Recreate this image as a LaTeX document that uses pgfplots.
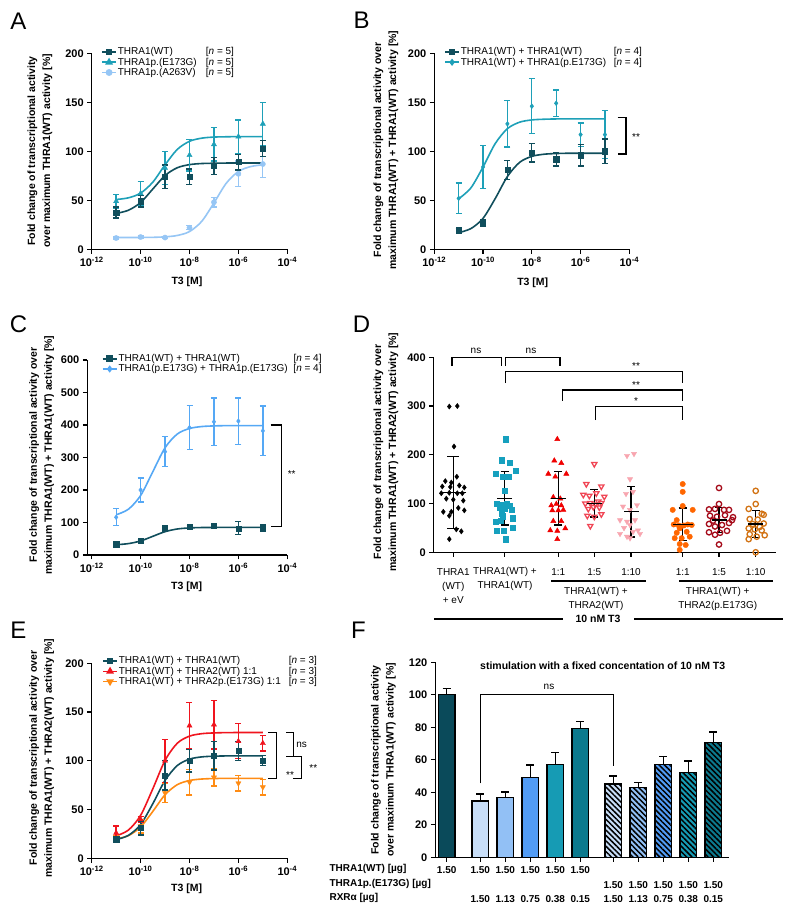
\documentclass[border=0pt]{standalone}
\usepackage{fontspec}
\setmainfont{Liberation Sans}
\usepackage{pgfplots}
\pgfplotsset{compat=1.18}
\usetikzlibrary{patterns.meta}
\pgfkeys{/pgf/number format/assume math mode=true}

\definecolor{wt}{RGB}{16,78,92}
\definecolor{mutA}{RGB}{30,160,184}
\definecolor{avA}{RGB}{150,198,245}
\definecolor{mutC}{RGB}{85,168,245}
\definecolor{redE}{RGB}{240,20,30}
\definecolor{orE}{RGB}{255,140,20}
\definecolor{dteal}{RGB}{22,160,190}
\definecolor{dred}{RGB}{240,0,0}
\definecolor{dred2}{RGB}{240,70,85}
\definecolor{dpink}{RGB}{248,165,175}
\definecolor{dor}{RGB}{255,102,0}
\definecolor{ddark}{RGB}{165,10,25}
\definecolor{dbrown}{RGB}{210,115,20}
\definecolor{fa}{RGB}{10,74,90}
\definecolor{fb}{RGB}{200,222,248}
\definecolor{fc}{RGB}{146,192,245}
\definecolor{fd}{RGB}{82,156,245}
\definecolor{fe}{RGB}{22,155,180}
\definecolor{ff}{RGB}{12,122,142}

\newcommand\labf{\bfseries\fontsize{10.5}{15}\selectfont}
\newcommand\tkf{\bfseries\fontsize{11}{13}\selectfont}
\newcommand\lgf{\fontsize{10}{12}\selectfont}
\newcommand\ylab[3]{\node[rotate=90,align=center,font=\labf] at (#1pt,#2pt) {#3};}

\pgfplotsset{
  gpaxis/.style={scale only axis, anchor=south west, clip=false,
    axis x line*=bottom, axis y line*=left,
    axis line style={-, line width=1.4pt},
    tick style={black, line width=1.3pt},
    tick align=outside, major tick length=4.5pt,
    tick label style={font=\tkf},
    legend style={draw=none, fill=none, font=\lgf, anchor=north west,
      row sep=-0.5pt, inner sep=0pt, nodes={inner sep=1pt}},
    legend cell align=left},
  fitcurve/.style={smooth, line width=1.6pt, no markers, forget plot},
  meanpts/.style={only marks, forget plot,
    error bars/y dir=both, error bars/y explicit,
    error bars/error bar style={line width=1.3pt},
    error bars/error mark options={rotate=90, mark size=3pt, line width=1.3pt}},
  fbarstyle/.style={ybar, bar width=16.7, bar shift=0pt, draw=black, line width=1.2pt,
    error bars/y dir=plus, error bars/y explicit,
    error bars/error bar style={black, line width=1.3pt},
    error bars/error mark options={black, rotate=90, mark size=4pt, line width=1.3pt}},
  hatchbar/.style={postaction={pattern={Lines[angle=-45,distance=3.8pt,line width=1.5pt]}, pattern color=black}},
  legend image code/.code={\draw[mark repeat=2,mark phase=2,#1]
      plot coordinates {(0pt,0pt) (7pt,0pt) (14pt,0pt)};},
}

\begin{document}
\begin{tikzpicture}
\fill[white] (0pt,0pt) rectangle (792pt,912pt);

% panel letters
\foreach \lt/\px/\py in {A/18.5/890.5, B/361.5/891.5, C/18.5/588, D/361.5/588, E/18.5/281.5, F/358.5/282}
  \node[font=\fontsize{24}{24}\selectfont] at (\px pt,\py pt) {\lt};

% ---------- A ----------
\begin{axis}[gpaxis, xmode=log, xmin=1e-12, xmax=1e-4, xminorticks=false,
  xtick={1e-12,1e-10,1e-8,1e-6,1e-4},
  xticklabels={10\textsuperscript{-12},10\textsuperscript{-10},10\textsuperscript{-8},10\textsuperscript{-6},10\textsuperscript{-4}},
  at={(91.7pt,662.7pt)}, width=195.6pt, height=196pt,
  ymin=0, ymax=200, ytick={0,50,100,150,200},
  legend style={at={(axis description cs:0.048,1.035)}}]
\addlegendimage{wt, line width=1.6pt, mark=square*, mark size=2.6pt}
\addlegendentry{\makebox[88pt][l]{THRA1(WT)}[\textit{n} = 5]}
\addlegendimage{mutA, line width=1.6pt, mark=triangle*, mark size=3pt}
\addlegendentry{\makebox[88pt][l]{THRA1p.(E173G)}[\textit{n} = 5]}
\addlegendimage{avA, line width=1.6pt, mark=*, mark size=2.6pt}
\addlegendentry{\makebox[88pt][l]{THRA1p.(A263V)}[\textit{n} = 5]}
\addplot[fitcurve, avA] coordinates {(1e-11,12)(3.162e-11,12)(1e-10,12.1)(3.162e-10,12.2)(1e-9,12.7)(3.162e-9,14.1)(1e-8,18.1)(3.162e-8,28.5)(1e-7,47.3)(3.162e-7,67.3)(1e-6,79.4)(3.162e-6,84.4)(1e-5,86.2)};
\addplot[fitcurve, mutA] coordinates {(1e-11,50.8)(3.162e-11,52.5)(1e-10,57.3)(3.162e-10,68.5)(1e-9,86.2)(3.162e-9,101.9)(1e-8,110.2)(3.162e-8,113.4)(1e-7,114.5)(3.162e-7,114.8)(1e-6,115)(3.162e-6,115)(1e-5,115)};
\addplot[fitcurve, wt] coordinates {(1e-11,36.6)(3.162e-11,39.8)(1e-10,47.7)(3.162e-10,61.5)(1e-9,75.3)(3.162e-9,83.2)(1e-8,86.4)(3.162e-8,87.5)(1e-7,87.8)(3.162e-7,88)(1e-6,88)(3.162e-6,88)(1e-5,88)};
\addplot[meanpts, avA, mark=*, mark size=2.6pt] coordinates {(1e-11,11.5)+-(0,1)(1e-10,12.5)+-(0,1)(1e-9,12)+-(0,1)(1e-8,22)+-(0,2)(1e-7,48)+-(0,5)(1e-6,77)+-(0,13)(1e-5,87)+-(0,14)};
\addplot[meanpts, mutA, mark=triangle*, mark size=3pt] coordinates {(1e-11,49)+-(0,7)(1e-10,57)+-(0,12)(1e-9,83)+-(0,17)(1e-8,96)+-(0,16)(1e-7,107)+-(0,17)(1e-6,115)+-(0,17)(1e-5,128)+-(0,22)};
\addplot[meanpts, wt, mark=square*, mark size=2.6pt] coordinates {(1e-11,37.5)+-(0,5.5)(1e-10,49)+-(0,6)(1e-9,74)+-(0,12)(1e-8,74)+-(0,8)(1e-7,85)+-(0,9)(1e-6,89)+-(0,8)(1e-5,103)+-(0,8)};
\end{axis}
\ylab{40}{761}{Fold change of transcriptional activity\\over maximum THRA1(WT) activity [\%]}
\node[font=\labf] at (187pt,630pt) {T3 [M]};

% ---------- B ----------
\begin{axis}[gpaxis, xmode=log, xmin=1e-12, xmax=1e-4, xminorticks=false,
  xtick={1e-12,1e-10,1e-8,1e-6,1e-4},
  xticklabels={10\textsuperscript{-12},10\textsuperscript{-10},10\textsuperscript{-8},10\textsuperscript{-6},10\textsuperscript{-4}},
  at={(434.3pt,662.7pt)}, width=195pt, height=196pt,
  ymin=0, ymax=200, ytick={0,50,100,150,200},
  legend style={at={(axis description cs:0.05,1.035)}}]
\addlegendimage{wt, line width=1.6pt, mark=square*, mark size=2.6pt}
\addlegendentry{\makebox[153pt][l]{THRA1(WT) + THRA1(WT)}[\textit{n} = 4]}
\addlegendimage{mutA, line width=1.6pt, mark=diamond*, mark size=2.4pt}
\addlegendentry{\makebox[153pt][l]{THRA1(WT) + THRA1(p.E173G)}[\textit{n} = 4]}
\addplot[fitcurve, mutA] coordinates {(1e-11,51.5)(3.162e-11,62.6)(1e-10,84)(3.162e-10,107.9)(1e-9,123.1)(3.162e-9,129.7)(1e-8,132)(3.162e-8,132.7)(1e-7,133)(3.162e-7,133)(1e-6,133)(3.162e-6,133)(1e-5,133)};
\addplot[fitcurve, wt] coordinates {(1e-11,17)(3.162e-11,21.1)(1e-10,31.6)(3.162e-10,51.8)(1e-9,74.3)(3.162e-9,88.7)(1e-8,94.8)(3.162e-8,97)(1e-7,97.7)(3.162e-7,98)(1e-6,98)(3.162e-6,98)(1e-5,98)};
\addplot[meanpts, mutA, mark=diamond*, mark size=2.4pt] coordinates {(1e-11,52)+-(0,15.5)(1e-10,84)+-(0,22)(1e-9,128)+-(0,23.5)(1e-8,146)+-(0,28)(1e-7,149)+-(0,13.5)(1e-6,117)+-(0,12)(1e-5,117)+-(0,24.5)};
\addplot[meanpts, wt, mark=square*, mark size=2.6pt] coordinates {(1e-11,19.5)+-(0,1.5)(1e-10,27)+-(0,3.5)(1e-9,81)+-(0,9.5)(1e-8,98.5)+-(0,9.5)(1e-7,92)+-(0,7)(1e-6,96)+-(0,11)(1e-5,100)+-(0,12.5)};
\end{axis}
\ylab{386}{762}{Fold change of transcriptional activity over\\maximum THRA1(WT) + THRA1(WT) activity [\%]}
\node[font=\labf] at (532.7pt,629.3pt) {T3 [M]};
\draw[line width=1.3pt] (617.7pt,794.3pt) -- (626pt,794.3pt) -- (626pt,758pt) -- (617.7pt,758pt);
\node[font=\lgf] at (636pt,775pt) {**};

% ---------- C ----------
\begin{axis}[gpaxis, xmode=log, xmin=6.6e-13, xmax=1e-4, xminorticks=false,
  xtick={1e-12,1e-10,1e-8,1e-6,1e-4},
  xticklabels={10\textsuperscript{-12},10\textsuperscript{-10},10\textsuperscript{-8},10\textsuperscript{-6},10\textsuperscript{-4}},
  at={(87.3pt,357pt)}, width=200pt, height=195pt,
  ymin=0, ymax=600, ytick={0,100,...,600},
  legend style={at={(axis description cs:0.072,1.035)}}]
\addlegendimage{wt, line width=1.6pt, mark=square*, mark size=2.6pt}
\addlegendentry{\makebox[175pt][l]{THRA1(WT) + THRA1(WT)}[\textit{n} = 4]}
\addlegendimage{mutC, line width=1.6pt, mark=diamond*, mark size=2.4pt}
\addlegendentry{\makebox[175pt][l]{THRA1(p.E173G) + THRA1p.(E173G)}[\textit{n} = 4]}
\addplot[fitcurve, mutC] coordinates {(1e-11,123.8)(3.162e-11,140.8)(1e-10,182.9)(3.162e-10,256.5)(1e-9,330)(3.162e-9,372.2)(1e-8,389.2)(3.162e-8,395.2)(1e-7,397.2)(3.162e-7,398)(1e-6,398)(3.162e-6,398)(1e-5,398)};
\addplot[fitcurve, wt] coordinates {(1e-11,31.7)(3.162e-11,35)(1e-10,43.2)(3.162e-10,57.5)(1e-9,71.8)(3.162e-9,80)(1e-8,83.3)(3.162e-8,84.5)(1e-7,84.8)(3.162e-7,85)(1e-6,85)(3.162e-6,85)(1e-5,85)};
\addplot[meanpts, mutC, mark=diamond*, mark size=2.4pt] coordinates {(1e-11,116)+-(0,26)(1e-10,200)+-(0,37)(1e-9,318)+-(0,46)(1e-8,392)+-(0,67)(1e-7,410)+-(0,73)(1e-6,412)+-(0,71)(1e-5,382)+-(0,76)};
\addplot[meanpts, wt, mark=square*, mark size=2.6pt] coordinates {(1e-11,33)+-(0,3)(1e-10,44)+-(0,3)(1e-9,81)+-(0,9.5)(1e-8,87)+-(0,3)(1e-7,89)+-(0,3)(1e-6,82)+-(0,20)(1e-5,84)+-(0,10)};
\end{axis}
\ylab{41.7}{457}{Fold change of transcriptional activity over\\maximum THRA1(WT) + THRA1(WT) activity [\%]}
\node[font=\labf] at (186.7pt,325.3pt) {T3 [M]};
\draw[line width=1.3pt] (270.7pt,487pt) -- (281.7pt,487pt) -- (281.7pt,385.3pt) -- (270.7pt,385.3pt);
\node[font=\lgf] at (291.7pt,438pt) {**};

% ---------- D ----------
\begin{axis}[gpaxis, at={(433.7pt,359.7pt)}, width=342.3pt, height=195pt,
  xmin=433.7, xmax=776, ymin=0, ymax=400, ytick={0,100,...,400},
  xtick={453.3,504.7,558.3,594.3,631,682.7,719,755.7}, xticklabels={}]
\addplot[only marks, black, mark=diamond*, mark size=2.6pt] coordinates {(449.3,299)(457.3,300)(454,217)(456.8,155)(445.3,146)(451.3,143)(442.3,135)(450.3,134)(459.3,137)(464.3,133)(441.3,121)(449.3,122)(457.3,121)(462.3,121)(446.3,110)(453.3,108)(463.3,106)(443.3,83)(451.3,83)(458.3,91)(464.3,86)(449.3,75)(456.3,47)(461.3,43)(449.3,27)};
\addplot[only marks, dteal, mark=square*, mark size=2.6pt] coordinates {(505.7,232)(501.7,189)(509.7,184)(495.7,161)(515.7,167)(502.7,155)(508.7,155)(504.7,127)(496.7,99)(501.7,97)(506.7,100)(509.7,96)(499.7,92)(504.7,89)(511.7,87)(501.7,80)(502.7,74)(512.7,70)(500.7,64)(495.7,62)(512.7,50)(496.7,45)(503.7,44)(505.7,27)};
\addplot[only marks, dred, mark=triangle*, mark size=3pt] coordinates {(557.3,232)(554.3,188)(561.3,183)(548.3,161)(555.3,155)(566.3,161)(553.3,113)(560.3,110)(551.3,96)(556.3,99)(561.3,96)(552.3,86)(558.3,86)(563.3,87)(553.3,64)(561.3,64)(550.3,45)(557.3,44)(565.3,49)(557.3,27)};
\addplot[only marks, dred2, mark=triangle, mark size=3pt, mark options={rotate=180, line width=1.3pt}] coordinates {(594.3,181)(586.3,140)(601.3,135)(583.3,118)(589.3,116)(596.3,121)(604.3,114)(598.3,104)(585.3,100)(590.3,101)(595.3,98)(601.3,101)(588.3,89)(593.3,93)(599.3,92)(587.3,75)(594.3,73)(601.3,78)(590.3,54)};
\addplot[only marks, dpink, mark=triangle*, mark size=3pt, mark options={rotate=180}] coordinates {(627,198)(634,202)(630,150)(626,120)(633,124)(623,94)(630,87)(637,97)(620,66)(627,63)(635,66)(630,56)(620,38)(627,32)(633,42)(640,38)(630,29)(638,45)(624,50)};
\addplot[only marks, dor, mark=*, mark size=2.7pt] coordinates {(682.7,140)(682.7,124)(682.7,95)(672.7,87)(692.7,87)(676.7,66)(673.7,57)(678.7,55)(683.7,55)(687.7,57)(691.7,56)(679.7,49)(674.7,29)(681.7,29)(689.7,32)(679.7,17)(685.7,15)(679.7,5)(676.7,40)(686.7,42)};
\addplot[only marks, ddark, mark=o, mark size=2.7pt, mark options={line width=1.3pt}] coordinates {(719,132)(719,99)(709,88)(715,89)(724,87)(729,87)(710,75)(717,73)(725,76)(733,72)(709,58)(715,53)(722,56)(729,60)(709,41)(715,36)(720,40)(727,44)(719,16)(713,65)(732,66)};
\addplot[only marks, dbrown, mark=o, mark size=2.7pt, mark options={line width=1.3pt}] coordinates {(755.7,126)(755.7,99)(748.7,89)(761.7,79)(763.7,77)(749.7,68)(757.7,67)(763.7,59)(748.7,49)(754.7,47)(761.7,45)(748.7,27)(756.7,32)(755.7,0)(752.7,58)(759.7,52)(749.7,37)(764.7,35)};
% mean and SD
\addplot[only marks, black, mark=-, mark size=13pt, mark options={line width=1.6pt},
  error bars/y dir=both, error bars/y explicit, error bars/error bar style={line width=1.5pt},
  error bars/error mark options={rotate=90, mark size=6pt, line width=1.5pt}]
  coordinates {(453.3,122.3)+-(0,74)};
\addplot[only marks, black, mark=-, mark size=10pt, mark options={line width=1.6pt},
  error bars/y dir=both, error bars/y explicit, error bars/error bar style={line width=1.5pt},
  error bars/error mark options={rotate=90, mark size=4pt, line width=1.5pt}]
  coordinates {(682.7,57.4)+-(0,33)};
\addplot[only marks, black, mark=-, mark size=7.5pt, mark options={line width=1.6pt},
  error bars/y dir=both, error bars/y explicit, error bars/error bar style={line width=1.5pt},
  error bars/error mark options={rotate=90, mark size=4pt, line width=1.5pt}]
  coordinates {(504.7,110.7)+-(0,55)(558.3,110.7)+-(0,55)(594.3,100.4)+-(0,28)(631,83.4)+-(0,52)(719,66.3)+-(0,26)(755.7,58)+-(0,28)};
% significance
\draw[line width=1.3pt] (axis cs:452,382) |- (axis cs:501.3,400) -- (axis cs:501.3,382);
\draw[line width=1.3pt] (axis cs:505.7,382) |- (axis cs:560,400) -- (axis cs:560,382);
\draw[line width=1.3pt] (axis cs:505.7,347) |- (axis cs:682.7,370.5) -- (axis cs:682.7,347);
\draw[line width=1.3pt] (axis cs:562.3,310.8) |- (axis cs:682.7,333) -- (axis cs:682.7,310.8);
\draw[line width=1.3pt] (axis cs:595.7,271) |- (axis cs:682.7,298.8) -- (axis cs:682.7,271);
\node[font=\lgf] at (axis cs:476,414) {ns};
\node[font=\lgf] at (axis cs:531,414) {ns};
\node[font=\lgf] at (axis cs:636,381) {**};
\node[font=\lgf] at (axis cs:636,344) {**};
\node[font=\lgf] at (axis cs:636,310) {*};
\end{axis}
\ylab{386}{460}{Fold change of transcriptional activity over\\maximum THRA1(WT) + THRA2(WT) activity [\%]}
\begin{scope}[every node/.style={font=\fontsize{10}{14}\selectfont, align=center}]
\node at (453.3pt,326.3pt) {THRA1\\(WT)\\+ eV};
\node at (505pt,333.3pt) {THRA1(WT) +\\THRA1(WT)};
\foreach \px/\t in {558.3/1:1, 594.3/1:5, 631/1:10, 682.7/1:1, 719/1:5, 755.7/1:10}
  \node at (\px pt,340.3pt) {\t};
\node at (596pt,313pt) {THRA1(WT) +\\THRA2(WT)};
\node at (717.7pt,313pt) {THRA1(WT) +\\THRA2(p.E173G)};
\end{scope}
\draw[line width=1.3pt] (551pt,331pt) -- (646pt,331pt);
\draw[line width=1.3pt] (679pt,331pt) -- (773pt,331pt);
\draw[line width=1.3pt] (434.3pt,293pt) -- (562.7pt,293pt);
\draw[line width=1.3pt] (634.3pt,293pt) -- (782.7pt,293pt);
\node[font=\labf] at (598pt,293pt) {10 nM T3};

% ---------- E ----------
\begin{axis}[gpaxis, xmode=log, xmin=1e-12, xmax=1e-4, xminorticks=false,
  xtick={1e-12,1e-10,1e-8,1e-6,1e-4},
  xticklabels={10\textsuperscript{-12},10\textsuperscript{-10},10\textsuperscript{-8},10\textsuperscript{-6},10\textsuperscript{-4}},
  at={(91.7pt,53.7pt)}, width=195.6pt, height=195pt,
  ymin=0, ymax=200, ytick={0,50,100,150,200},
  legend style={at={(axis description cs:0.053,1.04)}}]
\addlegendimage{wt, line width=1.6pt, mark=square*, mark size=2.6pt}
\addlegendentry{\makebox[170pt][l]{THRA1(WT) + THRA1(WT)}[\textit{n} = 3]}
\addlegendimage{redE, line width=1.6pt, mark=triangle*, mark size=3pt}
\addlegendentry{\makebox[170pt][l]{THRA1(WT) + THRA2(WT) 1:1}[\textit{n} = 3]}
\addlegendimage{orE, line width=1.6pt, mark=triangle*, mark size=3pt, mark options={rotate=180}}
\addlegendentry{\makebox[170pt][l]{THRA1(WT) + THRA2p.(E173G) 1:1}[\textit{n} = 3]}
\addplot[fitcurve, orE] coordinates {(1e-11,19.8)(3.162e-11,23.2)(1e-10,32.1)(3.162e-10,48.1)(1e-9,65.2)(3.162e-9,75.5)(1e-8,79.8)(3.162e-8,81.3)(1e-7,81.8)(3.162e-7,82)(1e-6,82)(3.162e-6,82)(1e-5,82)};
\addplot[fitcurve, redE] coordinates {(1e-11,23)(3.162e-11,28.9)(1e-10,44)(3.162e-10,71.3)(1e-9,100.4)(3.162e-9,118)(1e-8,125.3)(3.162e-8,127.8)(1e-7,128.6)(3.162e-7,128.9)(1e-6,129)(3.162e-6,129)(1e-5,129)};
\addplot[fitcurve, wt] coordinates {(1e-11,19.2)(3.162e-11,23.5)(1e-10,34.6)(3.162e-10,56)(1e-9,79.9)(3.162e-9,95.1)(1e-8,101.7)(3.162e-8,104)(1e-7,104.7)(3.162e-7,105)(1e-6,105)(3.162e-6,105)(1e-5,105)};
\addplot[meanpts, orE, mark=triangle*, mark size=3pt, mark options={rotate=180}] coordinates {(1e-11,21)+-(0,2)(1e-10,33)+-(0,7)(1e-9,67)+-(0,10)(1e-8,78)+-(0,13)(1e-7,83)+-(0,9)(1e-6,77)+-(0,8)(1e-5,73)+-(0,8)};
\addplot[meanpts, redE, mark=triangle*, mark size=3pt] coordinates {(1e-11,26)+-(0,7)(1e-10,40)+-(0,3)(1e-9,100)+-(0,22)(1e-8,136)+-(0,24)(1e-7,137)+-(0,25)(1e-6,120)+-(0,18)(1e-5,118)+-(0,8)};
\addplot[meanpts, wt, mark=square*, mark size=2.6pt] coordinates {(1e-11,19.5)+-(0,1.5)(1e-10,31)+-(0,7)(1e-9,85)+-(0,15)(1e-8,100)+-(0,11.5)(1e-7,105)+-(0,14.5)(1e-6,110)+-(0,10)(1e-5,100.5)+-(0,5)};
\end{axis}
\ylab{41.7}{154}{Fold change of transcriptional activity over\\maximum THRA1(WT) + THRA2(WT) activity [\%]}
\node[font=\labf] at (186.7pt,23.7pt) {T3 [M]};
\draw[line width=1.3pt] (286pt,179.3pt) -- (293.3pt,179.3pt) -- (293.3pt,155.3pt) -- (286pt,155.3pt);
\draw[line width=1.3pt] (268.3pt,179.3pt) -- (276.7pt,179.3pt) -- (276.7pt,133.7pt) -- (268.3pt,133.7pt);
\draw[line width=1.3pt] (293.3pt,155.3pt) -- (301.7pt,155.3pt) -- (301.7pt,133.7pt) -- (293.3pt,133.7pt);
\node[font=\lgf] at (301.7pt,167pt) {ns};
\node[font=\lgf] at (290pt,137pt) {**};
\node[font=\lgf] at (313.3pt,143.5pt) {**};

% ---------- F ----------
\begin{axis}[gpaxis, at={(435.3pt,54.7pt)}, width=293.4pt, height=195pt,
  xmin=435.3, xmax=728.7, ymin=0, ymax=120, ytick={0,20,...,120},
  xtick={446.7,480.3,505.3,530.3,555.3,580.3,613.3,638.3,663.3,688.3,713.3}, xticklabels={}]
\addplot[fbarstyle, fill=fa] coordinates {(446.7,100)+-(0,4)};
\addplot[fbarstyle, fill=fb] coordinates {(480.3,34.7)+-(0,4.3)};
\addplot[fbarstyle, fill=fc] coordinates {(505.3,36.7)+-(0,3.5)};
\addplot[fbarstyle, fill=fd] coordinates {(530.3,49)+-(0,7.8)};
\addplot[fbarstyle, fill=fe] coordinates {(555.3,57.2)+-(0,7.2)};
\addplot[fbarstyle, fill=ff] coordinates {(580.3,79.4)+-(0,4.1)};
\addplot[fbarstyle, hatchbar, fill=fb] coordinates {(613.3,45.1)+-(0,4.9)};
\addplot[fbarstyle, hatchbar, fill=fc] coordinates {(638.3,42.9)+-(0,3.3)};
\addplot[fbarstyle, hatchbar, fill=fd] coordinates {(663.3,57.2)+-(0,4.8)};
\addplot[fbarstyle, hatchbar, fill=fe] coordinates {(688.3,52.1)+-(0,7.2)};
\addplot[fbarstyle, hatchbar, fill=ff] coordinates {(713.3,70.6)+-(0,6.5)};
\draw[line width=1.3pt] (axis cs:480.3,45.5) |- (axis cs:613.3,100) -- (axis cs:613.3,56.2);
\node[font=\lgf] at (axis cs:549,105) {ns};
\end{axis}
\ylab{383.3}{152}{Fold change of transcriptional activity\\over maximum THRA1(WT) activity [\%]}
\node[font=\labf] at (602.7pt,246pt) {stimulation with a fixed concentation of 10 nM T3};
\begin{scope}[every node/.style={font=\bfseries\fontsize{10}{12}\selectfont}]
\node[anchor=west] at (326pt,43pt) {THRA1(WT) [µg]};
\node[anchor=west] at (326pt,28.5pt) {THRA1p.(E173G) [µg]};
\node[anchor=west] at (326pt,14pt) {RXRα [µg]};
\foreach \px in {446.7,480.3,505.3,530.3,555.3,580.3}
  \node at (\px pt,42pt) {1.50};
\foreach \px in {613.3,638.3,663.3,688.3,713.3}
  \node at (\px pt,27pt) {1.50};
\foreach \px/\v in {480.3/1.50,505.3/1.13,530.3/0.75,555.3/0.38,580.3/0.15,613.3/1.50,638.3/1.13,663.3/0.75,688.3/0.38,713.3/0.15}
  \node at (\px pt,12.7pt) {\v};
\end{scope}
\end{tikzpicture}
\end{document}
